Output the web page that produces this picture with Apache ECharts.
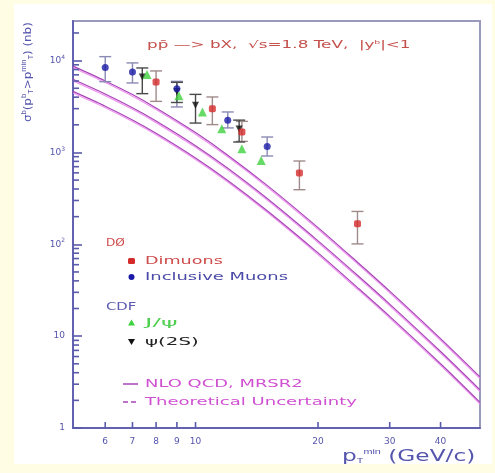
<!DOCTYPE html>
<html>
<head>
<meta charset="utf-8">
<script src="https://cdn.jsdelivr.net/npm/echarts@6/dist/echarts.min.js"></script>
<style>
  html, body { margin: 0; padding: 0; background: #fffde3; }
  #panel { position: absolute; left: 14px; top: 4px; width: 478px; height: 460px; background: #ffffff; }
  #c { position: absolute; left: 0; top: 0; width: 495px; height: 473px; }
</style>
</head>
<body>
<div id="panel"></div>
<div id="c"></div>
<script>
// b-quark production cross section sigma(pT > pTmin), |y| < 1, sqrt(s) = 1.8 TeV

// DØ dimuons
const dimuonPt    = [8, 11, 13, 18, 25];
const dimuonSigma = [5860, 3000, 1670, 597, 167];
const dimuonLow   = [3600, 2010, 1320, 393, 101];
const dimuonHigh  = [7720, 4020, 2180, 807, 228];

// DØ inclusive muons
const inclPt    = [6, 7, 9, 12, 15];
const inclSigma = [8390, 7530, 4950, 2240, 1164];
const inclLow   = [5900, 5710, 3130, 1850, 915];
const inclHigh  = [11050, 9440, 5950, 2760, 1473];

// CDF J/psi
const jpsiPt    = [7.6, 9.1, 10.4, 11.6, 13, 14.5];
const jpsiSigma = [7080, 4150, 2760, 1815, 1100, 819];

// CDF psi(2S)
const psi2sPt    = [7.4, 9, 10, 12.8];
const psi2sSigma = [6640, 4600, 3260, 1800];
const psi2sLow   = [4370, 3500, 2090, 1300];
const psi2sHigh  = [8320, 5800, 4290, 2250];

// NLO QCD (MRSR2) central prediction and uncertainty band edges
const theoryPt     = [5, 6, 7, 8, 10, 12, 15, 20, 25, 30, 40, 50];
const theoryUpper  = [8710, 6010, 4270, 3050, 1645, 935, 438, 152, 63.8, 30.9, 9.4, 3.6];
const theoryCentre = [6270, 4330, 3070, 2200, 1185, 673, 315, 109, 46, 22.3, 6.8, 2.6];
const theoryLower  = [4620, 3190, 2260, 1620, 872, 496, 232, 80.6, 33.8, 16.4, 5.0, 1.9];

// axis ticks
const xTickValues = [6, 7, 8, 9, 10, 20, 30, 40];
const yMajorTicks = [1, 10, 100, 1000, 10000];
const xRange = [5, 50];
const yRange = [1, 27000];

const yMinorTicks = [];
yMajorTicks.forEach(d => { for (let k = 2; k <= 9; k++) { if (d * k < yRange[1]) yMinorTicks.push(d * k); } });

const pairs = (xs, ys) => xs.map((x, i) => [x, ys[i]]);
const bars = (xs, lo, hi) => xs.map((x, i) => [x, lo[i], hi[i]]);

const AXIS_BLUE = '#6262b0';
const TICK_BLUE = '#5a5aac';
const LABEL_BLUE = '#5555ad';
const THEORY = '#a845b8';
const THEORY_HALO = 'rgba(236,130,236,0.85)';
const FONT = '"DejaVu Sans", "Liberation Sans", sans-serif';

function errorBars(color) {
  return function (params, api) {
    const x = api.value(0);
    const a = api.coord([x, api.value(1)]);
    const b = api.coord([x, api.value(2)]);
    const hw = 6;
    const st = { stroke: color, lineWidth: 1.4 };
    return {
      type: 'group',
      children: [
        { type: 'line', shape: { x1: a[0], y1: a[1], x2: b[0], y2: b[1] }, style: st },
        { type: 'line', shape: { x1: a[0] - hw, y1: a[1], x2: a[0] + hw, y2: a[1] }, style: st },
        { type: 'line', shape: { x1: b[0] - hw, y1: b[1], x2: b[0] + hw, y2: b[1] }, style: st }
      ]
    };
  };
}

// short inward tick marks, positioned by the data axes
function tickSeries(data, size, offset) {
  return {
    type: 'scatter', xAxisIndex: 0, yAxisIndex: 0, silent: true, clip: false,
    data: data, symbol: 'rect', symbolSize: size, symbolOffset: offset,
    itemStyle: { color: TICK_BLUE, opacity: 1 }, z: 8
  };
}

function curve(data, name) {
  return {
    type: 'line', name: name, xAxisIndex: 0, yAxisIndex: 0,
    data: data, smooth: 0.3, showSymbol: false, silent: true,
    lineStyle: { color: THEORY, width: 1.2, shadowColor: THEORY_HALO, shadowBlur: 0, shadowOffsetY: 1.6 }, z: 3
  };
}

function text(str, x, y, color, size, sx) {
  return {
    type: 'text', x: x, y: y, scaleX: sx || 1, z: 100,
    style: { text: str, fill: color, font: size + 'px ' + FONT, textVerticalAlign: 'middle' }
  };
}

const chart = echarts.init(document.getElementById('c'), null, { renderer: 'canvas', width: 495, height: 473 });

chart.setOption({
  backgroundColor: 'transparent',
  animation: false,
  grid: { left: 73, right: 15, top: 21, bottom: 45, show: true, borderColor: '#9a9abd', borderWidth: 2, backgroundColor: 'transparent' },
  xAxis: [
    {
      type: 'log', logBase: 10, min: xRange[0], max: xRange[1], position: 'bottom',
      axisLine: { show: true, lineStyle: { color: AXIS_BLUE, width: 2 } },
      axisTick: { show: false }, axisLabel: { show: false }, splitLine: { show: false }, minorTick: { show: false }
    },
    {
      type: 'value', min: Math.log10(xRange[0]), max: Math.log10(xRange[1]), position: 'bottom',
      axisLine: { show: false },
      axisTick: { show: false },
      axisLabel: {
        show: true, customValues: xTickValues.map(Math.log10), margin: 9,
        color: LABEL_BLUE, fontSize: 9, fontFamily: FONT,
        formatter: v => String(Math.round(Math.pow(10, v)))
      },
      splitLine: { show: false }
    }
  ],
  yAxis: [
    {
      type: 'log', logBase: 10, min: yRange[0], max: yRange[1], position: 'left', interval: 1,
      axisLine: { show: true, lineStyle: { color: AXIS_BLUE, width: 2 } },
      axisTick: { show: true, inside: true, length: 9, lineStyle: { color: TICK_BLUE, width: 1.6 } },
      axisLabel: {
        show: true, margin: 8, color: LABEL_BLUE, fontSize: 9, fontFamily: FONT, showMaxLabel: false,
        formatter: v => {
          const e = Math.round(Math.log10(v));
          if (e === 0) return '1';
          if (e === 1) return '10';
          return '10{s|' + e + '}';
        },
        rich: { s: { fontSize: 6, color: LABEL_BLUE, fontFamily: FONT, verticalAlign: 'bottom', padding: [0, 0, 7, 0] } }
      },
      splitLine: { show: false }, minorTick: { show: false }
    }
  ],
  series: [
    tickSeries(yMinorTicks.map(v => [xRange[0], v]), [6, 1.6], [3, 0]),
    tickSeries(xTickValues.map(v => [v, yRange[0]]), [1.6, 6], [0, -3]),
    curve(pairs(theoryPt, theoryUpper), 'upper'),
    curve(pairs(theoryPt, theoryCentre), 'NLO QCD, MRSR2'),
    curve(pairs(theoryPt, theoryLower), 'lower'),
    { type: 'custom', xAxisIndex: 0, yAxisIndex: 0, renderItem: errorBars('#a08a8a'), data: bars(dimuonPt, dimuonLow, dimuonHigh), encode: { x: 0, y: [1, 2] }, z: 4 },
    { type: 'custom', xAxisIndex: 0, yAxisIndex: 0, renderItem: errorBars('#8a8ab4'), data: bars(inclPt, inclLow, inclHigh), encode: { x: 0, y: [1, 2] }, z: 4 },
    { type: 'custom', xAxisIndex: 0, yAxisIndex: 0, renderItem: errorBars('#4a4a4a'), data: bars(psi2sPt, psi2sLow, psi2sHigh), encode: { x: 0, y: [1, 2] }, z: 4 },
    { type: 'scatter', name: 'ψ(2S)', xAxisIndex: 0, yAxisIndex: 0, data: pairs(psi2sPt, psi2sSigma), symbol: 'triangle', symbolRotate: 180, symbolSize: 7, itemStyle: { color: '#111111' }, z: 5 },
    { type: 'scatter', name: 'J/ψ', xAxisIndex: 0, yAxisIndex: 0, data: pairs(jpsiPt, jpsiSigma), symbol: 'triangle', symbolSize: 9, itemStyle: { color: '#3ed23e' }, z: 6 },
    { type: 'scatter', name: 'Inclusive Muons', xAxisIndex: 0, yAxisIndex: 0, data: pairs(inclPt, inclSigma), symbol: 'circle', symbolSize: 7, itemStyle: { color: '#1a1aa8' }, z: 7 },
    { type: 'scatter', name: 'Dimuons', xAxisIndex: 0, yAxisIndex: 0, data: pairs(dimuonPt, dimuonSigma), symbol: 'roundRect', symbolSize: 7, itemStyle: { color: '#d42a2a' }, z: 7 }
  ],
  graphic: [
    // heading inside the frame
    {
      type: 'text', x: 147, y: 45, scaleX: 1.68, z: 100,
      style: {
        text: 'pp\u0304 \u2014> bX,  \u221As=1.8 TeV,  |y{s|b}|<1',
        fill: '#c4504c', font: '10px ' + FONT, textVerticalAlign: 'middle',
        rich: { s: { fontSize: 6, fill: '#c4504c', verticalAlign: 'bottom', padding: [0, 0, 6, 0] } }
      }
    },
    // y-axis title
    {
      type: 'text', x: 28, y: 122, rotation: Math.PI / 2, scaleX: 1.08, z: 100,
      style: {
        text: '\u03c3{s|b}(p{s|b}{u|T}>p{s|min}{u|T}) (nb)',
        fill: LABEL_BLUE, font: '11px ' + FONT, textVerticalAlign: 'middle',
        rich: {
          s: { fontSize: 7, fill: LABEL_BLUE, verticalAlign: 'bottom', padding: [0, 0, 7, 0] },
          u: { fontSize: 7, fill: LABEL_BLUE, verticalAlign: 'top', padding: [7, 0, 0, 0] }
        }
      }
    },
    // x-axis title
    {
      type: 'text', x: 342, y: 457, scaleX: 1.55, z: 100,
      style: {
        text: 'p{u|T}{s|min} (GeV/c)',
        fill: LABEL_BLUE, font: '15px ' + FONT, textVerticalAlign: 'middle',
        rich: {
          s: { fontSize: 7, fill: LABEL_BLUE, verticalAlign: 'bottom', padding: [0, 0, 10, 0] },
          u: { fontSize: 7, fill: LABEL_BLUE, verticalAlign: 'top', padding: [9, 0, 0, 0] }
        }
      }
    },
    // legend
    text('D\u00d8', 106, 243, '#cf4a4a', 11, 1.1),
    { type: 'rect', shape: { x: 128, y: 258, width: 7, height: 6, r: 1.5 }, style: { fill: '#d42a2a' }, z: 100 },
    text('Dimuons', 145, 261, '#cf4a4a', 11, 1.6),
    { type: 'circle', shape: { cx: 131.5, cy: 277, r: 3 }, style: { fill: '#1a1aa8' }, z: 100 },
    text('Inclusive Muons', 145, 277, '#4a4aa8', 11, 1.63),
    text('CDF', 106, 307, '#5a5ab2', 11, 1.35),
    { type: 'polygon', shape: { points: [[131.5, 319.5], [128, 325.5], [135, 325.5]] }, style: { fill: '#3ed23e' }, z: 100 },
    text('J/\u03c8', 145, 323, '#50d050', 11, 2.3),
    { type: 'polygon', shape: { points: [[128, 339], [135, 339], [131.5, 345]] }, style: { fill: '#111111' }, z: 100 },
    text('\u03c8(2S)', 145, 342, '#222222', 11, 1.8),
    { type: 'line', shape: { x1: 123, y1: 384, x2: 138, y2: 384 }, style: { stroke: THEORY, lineWidth: 1.5 }, z: 100 },
    text('NLO QCD, MRSR2', 145, 384, '#d050d2', 11, 1.63),
    { type: 'line', shape: { x1: 123, y1: 402, x2: 138, y2: 402 }, style: { stroke: THEORY, lineWidth: 1.5, lineDash: [5, 3] }, z: 100 },
    text('Theoretical Uncertainty', 145, 402, '#d050d2', 11, 1.64)
  ]
});
</script>
</body>
</html>
